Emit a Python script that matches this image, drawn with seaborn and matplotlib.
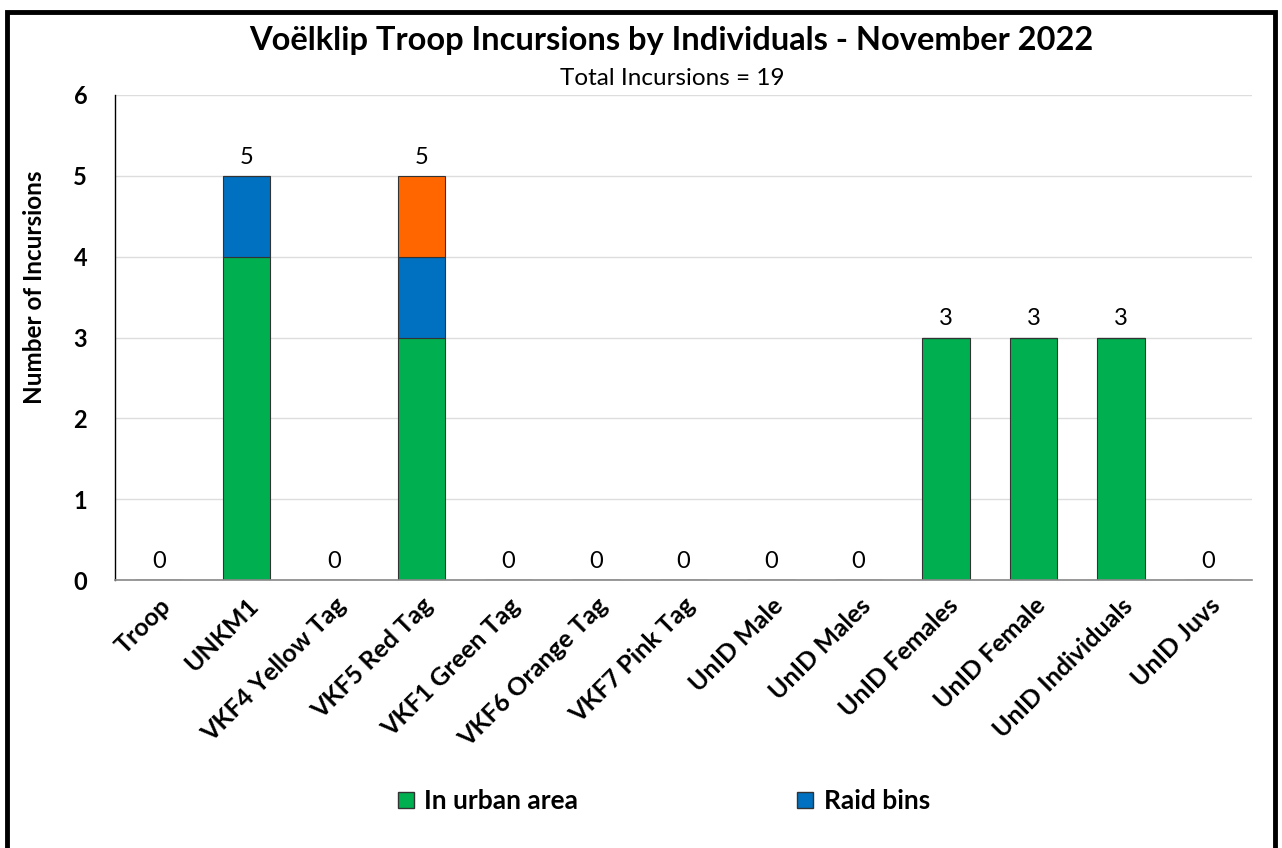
import matplotlib

matplotlib.use('Agg')
import matplotlib.pyplot as plt
import seaborn as sns
import numpy as np
from matplotlib.patches import Rectangle, Patch

# chart data
individuals = ["Troop", "UNKM1", "VKF4 Yellow Tag", "VKF5 Red Tag", "VKF1 Green Tag",
               "VKF6 Orange Tag", "VKF7 Pink Tag", "UnID Male", "UnID Males",
               "UnID Females", "UnID Female", "UnID Individuals", "UnID Juvs"]
urban_area = [0, 4, 0, 3, 0, 0, 0, 0, 0, 3, 3, 3, 0]
raid_bins = [0, 1, 0, 1, 0, 0, 0, 0, 0, 0, 0, 0, 0]
other = [0, 0, 0, 1, 0, 0, 0, 0, 0, 0, 0, 0, 0]

sns.set_style("white")
plt.rcParams['font.family'] = ['Lato', 'DejaVu Sans']
plt.rcParams['text.color'] = 'black'
plt.rcParams['axes.labelcolor'] = 'black'
plt.rcParams['xtick.color'] = 'black'
plt.rcParams['ytick.color'] = 'black'

fig = plt.figure(figsize=(12.82, 8.48), dpi=100)
ax = fig.add_axes([0.0897, 0.316, 0.887, 0.572])

x = np.arange(len(individuals))
urban = np.array(urban_area)
raid = np.array(raid_bins)
oth = np.array(other)

bar_kw = dict(width=0.54, edgecolor="#333333", linewidth=0.8, ax=ax,
              native_scale=True, saturation=1)
sns.barplot(x=x, y=urban, color="#00B050", bottom=0, **bar_kw)
sns.barplot(x=x, y=raid, color="#0070C0", bottom=urban, **bar_kw)
sns.barplot(x=x, y=oth, color="#FF6600", bottom=urban + raid, **bar_kw)

totals = urban + raid + oth
for xi, t in zip(x, totals):
    ax.text(xi, t + 0.1, str(t), ha="center", va="bottom", fontsize=17)

ax.set_xlim(-0.5, len(individuals) - 0.5)
ax.set_ylim(0, 6)
ax.set_yticks(range(7))
ax.set_yticklabels([str(i) for i in range(7)], fontsize=17, fontweight="bold")
ax.set_xticks(x)
ax.set_xticklabels(individuals, rotation=45, ha="right", rotation_mode="anchor",
                   fontsize=18, fontweight="bold")
ax.tick_params(axis="y", length=0, pad=20)
ax.tick_params(axis="x", length=0, pad=10)
ax.yaxis.grid(True, color="#DDDDDD", linewidth=1)
ax.set_axisbelow(True)
for s in ["top", "right"]:
    ax.spines[s].set_visible(False)
ax.spines["left"].set_color("black")
ax.spines["left"].set_linewidth(1)
ax.spines["bottom"].set_color("#888888")
ax.spines["bottom"].set_linewidth(1.2)
ax.set_ylabel("Number of Incursions", fontsize=17.5, fontweight="bold")
ax.yaxis.set_label_coords(-0.061, 0.604)
ax.set_xlabel("")

fig.text(0.524, 0.952, "Voëlklip Troop Incursions by Individuals - November 2022",
         ha="center", va="center", fontsize=23.5, fontweight="bold")
fig.text(0.524, 0.907, "Total Incursions = 19", ha="center", va="center", fontsize=17.5)

handles = [Patch(facecolor="#00B050", edgecolor="#333333", label="In urban area"),
           Patch(facecolor="#0070C0", edgecolor="#333333", label="Raid bins")]
fig.legend(handles=handles, loc="center", bbox_to_anchor=(0.518, 0.055), ncol=2,
           frameon=False, prop={"weight": "bold", "size": 19}, handlelength=0.6,
           handleheight=0.6, handletextpad=0.4, columnspacing=8.3)

# outer border of the chart
fig.add_artist(Rectangle((7 / 1282, -0.1), 1268 / 1282, 1.1 - 12 / 848,
                         transform=fig.transFigure, fill=False,
                         edgecolor="black", linewidth=3.5))

fig.savefig("out.png", dpi=100, facecolor="white")
